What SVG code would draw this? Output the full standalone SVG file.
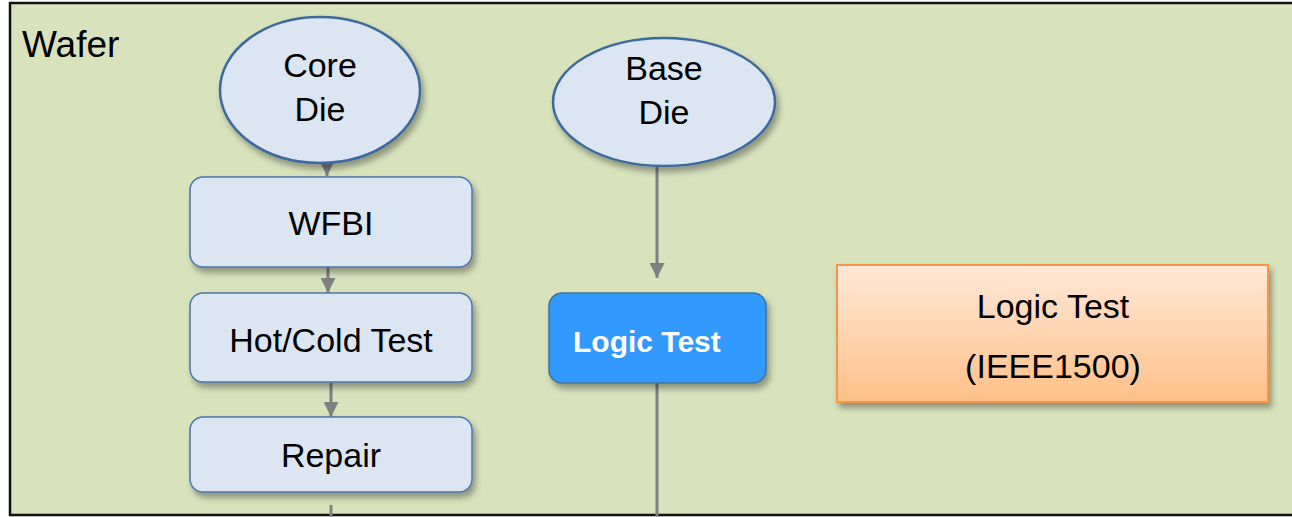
<svg xmlns="http://www.w3.org/2000/svg" width="1292" height="517" viewBox="0 0 1292 517">
<style>
text{font-family:"Liberation Sans",Arial,sans-serif;fill:#000}
.el{fill:#DCE6F2;stroke:#3C6A9E;stroke-width:2.5}
.bx{fill:#DCE6F2;stroke:#4A76AC;stroke-width:1.5}
.lbl{font-size:34px;text-anchor:middle}
.con{stroke:#808080;stroke-width:3;fill:none}
</style>
<defs>
<filter id="sh" x="-20%" y="-20%" width="140%" height="150%">
<feDropShadow dx="3" dy="5" stdDeviation="3" flood-color="#000" flood-opacity="0.35"/>
</filter>
<linearGradient id="og" x1="0" y1="0" x2="0" y2="1">
<stop offset="0" stop-color="#FFE8D8"/>
<stop offset="1" stop-color="#FFC088"/>
</linearGradient>
<marker id="ah" markerWidth="5" markerHeight="5" refX="5" refY="2.5" orient="auto" markerUnits="strokeWidth">
<path d="M0,0 L5,2.5 L0,5 Z" fill="#808080"/>
</marker>
</defs>
<rect x="0" y="0" width="1292" height="517" fill="#fff"/>
<g id="wafer">
<rect x="10" y="3" width="1300" height="512" fill="#D8E3BD" stroke="#111" stroke-width="2.5"/>
<text x="22" y="57" style="font-size:37px">Wafer</text>
</g>
<g id="connectors">
<line class="con" x1="327" y1="163" x2="327" y2="176" marker-end="url(#ah)"/>
<line class="con" x1="328" y1="267" x2="328" y2="293" marker-end="url(#ah)"/>
<line class="con" x1="331" y1="383" x2="331" y2="417" marker-end="url(#ah)"/>
<line class="con" x1="331" y1="505" x2="331" y2="517"/>
<line class="con" x1="657" y1="167" x2="657" y2="278" marker-end="url(#ah)"/>
<line class="con" x1="657" y1="383" x2="657" y2="517"/>
</g>
<g id="core-die">
<ellipse class="el" cx="320" cy="90" rx="100" ry="73" filter="url(#sh)"/>
<text class="lbl" x="320" y="77">Core</text>
<text class="lbl" x="320" y="121">Die</text>
</g>
<g id="wfbi">
<rect class="bx" x="190" y="177" width="282" height="90" rx="13" filter="url(#sh)"/>
<text class="lbl" x="331" y="235">WFBI</text>
</g>
<g id="hot-cold-test">
<rect class="bx" x="190" y="293" width="282" height="89" rx="13" filter="url(#sh)"/>
<text class="lbl" x="331" y="352">Hot/Cold Test</text>
</g>
<g id="repair">
<rect class="bx" x="190" y="417" width="282" height="75" rx="13" filter="url(#sh)"/>
<text class="lbl" x="331" y="467">Repair</text>
</g>
<g id="base-die">
<ellipse class="el" cx="664" cy="102" rx="111" ry="64" filter="url(#sh)"/>
<text class="lbl" x="664" y="80">Base</text>
<text class="lbl" x="664" y="124">Die</text>
</g>
<g id="logic-test-base">
<rect x="549" y="293" width="217" height="90" rx="13" fill="#3399FF" stroke="#41719C" stroke-width="1.5" filter="url(#sh)"/>
<text x="573" y="352" style="font-size:30px;font-weight:bold;fill:#fff">Logic Test</text>
</g>
<g id="logic-test-ieee1500">
<rect x="837" y="265" width="431" height="137" fill="url(#og)" stroke="#F79646" stroke-width="2" filter="url(#sh)"/>
<text class="lbl" x="1053" y="318">Logic Test</text>
<text class="lbl" x="1053" y="378">(IEEE1500)</text>
</g>
</svg>
